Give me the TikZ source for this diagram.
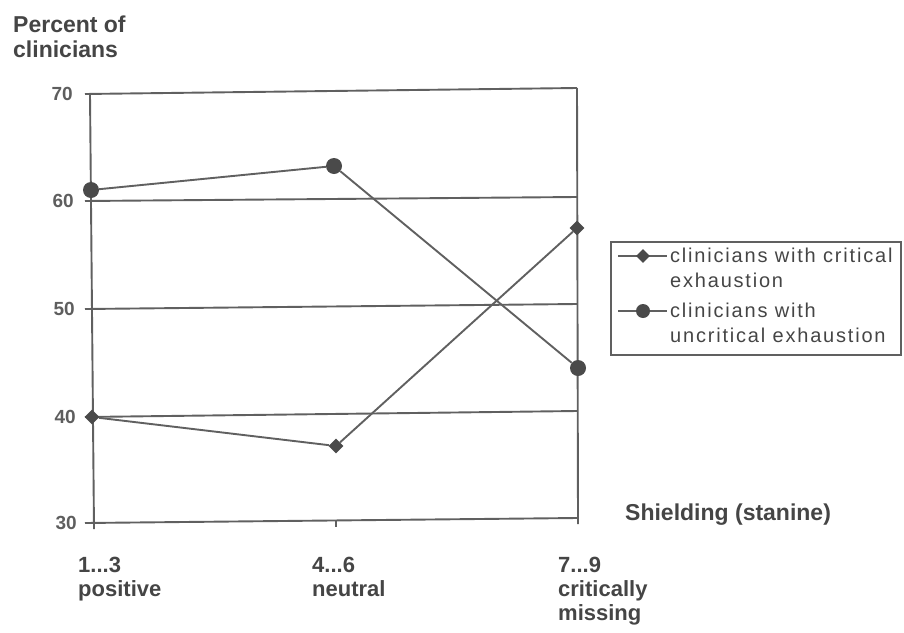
\documentclass[tikz,border=0pt]{standalone}
\usepackage{fontspec}
\setmainfont{Liberation Sans}
\newfontfamily\keyfont[LetterSpace=9]{Liberation Sans}
\usetikzlibrary{shapes.geometric}
\definecolor{ink}{HTML}{454545}
\definecolor{inklight}{HTML}{5E5E5E}
\definecolor{rule}{HTML}{606060}
\definecolor{mark}{HTML}{4A4A4A}

\begin{document}
\begin{tikzpicture}[x=1pt,y=-1pt]
\tikzstyle{every node}+=[inner sep=0pt, text=ink]
\tikzstyle{dia}=[diamond, fill=mark, minimum size=15pt]
\tikzstyle{dot}=[circle, fill=mark, minimum size=16pt]
\tikzstyle{line}=[rule, line width=1.9pt]
\tikzstyle{lbl}=[font=\fontsize{22}{24}\selectfont\bfseries, align=left, anchor=base west]
\tikzstyle{tick}=[font=\fontsize{19}{22}\selectfont\bfseries, text=inklight, anchor=east]
\tikzstyle{key}=[font=\keyfont\fontsize{20}{25}\selectfont, align=left, anchor=base west]
\useasboundingbox (0,0) rectangle (904,632);
\draw [line] (85,94) -- (577,88);
\draw [line] (85,201) -- (577,197);
\draw [line] (85,309) -- (577,304);
\draw [line] (85,417) -- (577,411);
\draw [line] (85,523) -- (577,518);
\draw [line] (90,94) -- (94,529);
\draw [line] (577,88) -- (578,524);
\draw [rule, line width=1.3pt] (336,520) -- (336,527);
\node [tick] (y70) at (73,94) {70};
\node [tick] (y60) at (74,201) {60};
\node [tick] (y50) at (75,309) {50};
\node [tick] (y40) at (76,417) {40};
\node [tick] (y30) at (77,523) {30};
\node [lbl, font=\fontsize{23}{25}\selectfont\bfseries] (title) at (13,57) {Percent of\\clinicians};
\node [dia] (c1) at (92,417) {};
\node [dia] (c2) at (336,446) {};
\node [dia] (c3) at (577,228) {};
\node [dot] (u1) at (91,190) {};
\node [dot] (u2) at (334,166) {};
\node [dot] (u3) at (578,368) {};
\draw [line] (c1) -- (c2) -- (c3);
\draw [line] (u1) -- (u2) -- (u3);
\node [lbl] (x1) at (78,596) {1...3\\positive};
\node [lbl] (x2) at (312,596) {4...6\\neutral};
\node [lbl] (x3) at (558,620) {7...9\\critically\\missing};
\node [lbl, font=\fontsize{23}{25}\selectfont\bfseries] (xt) at (625,520) {Shielding (stanine)};
\draw [rule, line width=1.4pt] (611,242) rectangle (901,355);
\coordinate (ka) at (618,256);
\coordinate (kb) at (667,256);
\coordinate (kc) at (618,311);
\coordinate (kd) at (667,311);
\draw [line] (ka) -- (kb);
\draw [line] (kc) -- (kd);
\node [dia, minimum size=14pt] (kdia) at (643,256) {};
\node [dot, minimum size=14pt] (kdot) at (643,311) {};
\node [key] (k1) at (670,287) {clinicians with critical\\exhaustion};
\node [key] (k2) at (670,342) {clinicians with\\uncritical exhaustion};
\end{tikzpicture}
\end{document}
